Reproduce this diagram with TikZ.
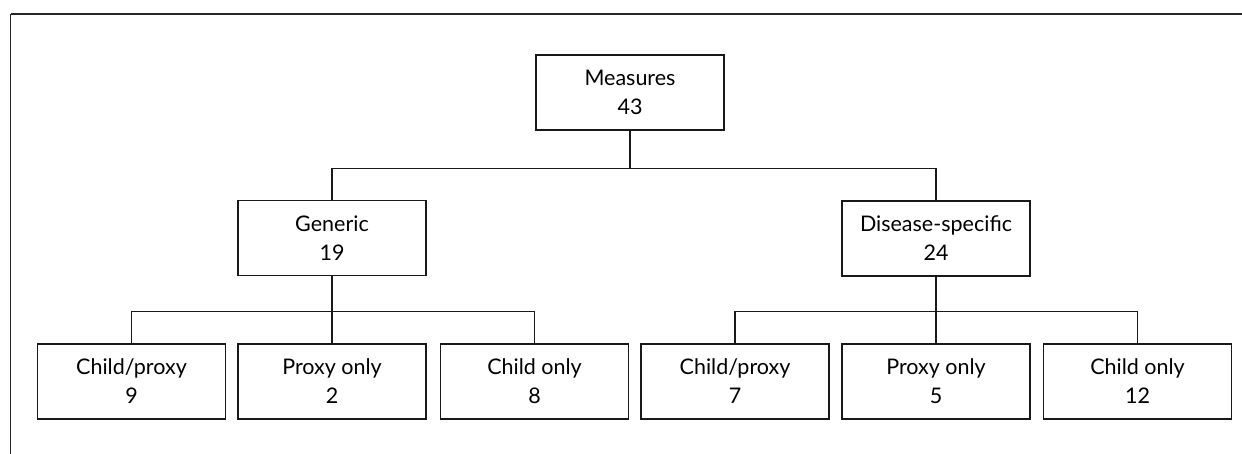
\documentclass[tikz,border=0pt]{standalone}
\usepackage{fontspec}
\setmainfont{Lato}
\begin{document}
\begin{tikzpicture}[x=1pt,y=1pt,
  box/.style={draw=black!90, line width=1.5pt, minimum width=188pt, minimum height=75pt,
    inner sep=0pt, align=center, font=\fontsize{21.5}{29}\selectfont},
  conn/.style={draw=black!90, line width=1.5pt}]
\useasboundingbox (0,0) rectangle (1242,-454);
% frame
\coordinate (ftl) at (10.5,-14);
\coordinate (ftr) at (1242,-14);
\coordinate (fbl) at (10.5,-454);
\draw[black!85, line width=2.2pt] (ftl) -- (ftr);
\draw[black!85, line width=1.6pt] (ftl) -- (fbl);
% nodes
\node[box] (M) at (630,-92.5) {Measures\\43};
\node[box] (G) at (332,-238) {Generic\\19};
\node[box] (D) at (936,-238.5) {Disease-specific\\24};
\node[box] (g1) at (131.5,-381.5) {Child/proxy\\9};
\node[box] (g2) at (332,-381.5) {Proxy only\\2};
\node[box] (g3) at (534.5,-381.5) {Child only\\8};
\node[box] (d1) at (735,-381.5) {Child/proxy\\7};
\node[box] (d2) at (936,-381.5) {Proxy only\\5};
\node[box] (d3) at (1137.5,-381.5) {Child only\\12};
% connectors
\draw[conn] (M.south) -- ++(0,-38) -| (G.north);
\draw[conn] (M.south) -- ++(0,-38) -| (D.north);
\draw[conn] (G.south) -- ++(0,-35.5) -| (g1.north);
\draw[conn] (G.south) -- (g2.north);
\draw[conn] (G.south) -- ++(0,-35.5) -| (g3.north);
\draw[conn] (D.south) -- ++(0,-35) -| (d1.north);
\draw[conn] (D.south) -- (d2.north);
\draw[conn] (D.south) -- ++(0,-35) -| (d3.north);
\end{tikzpicture}
\end{document}
